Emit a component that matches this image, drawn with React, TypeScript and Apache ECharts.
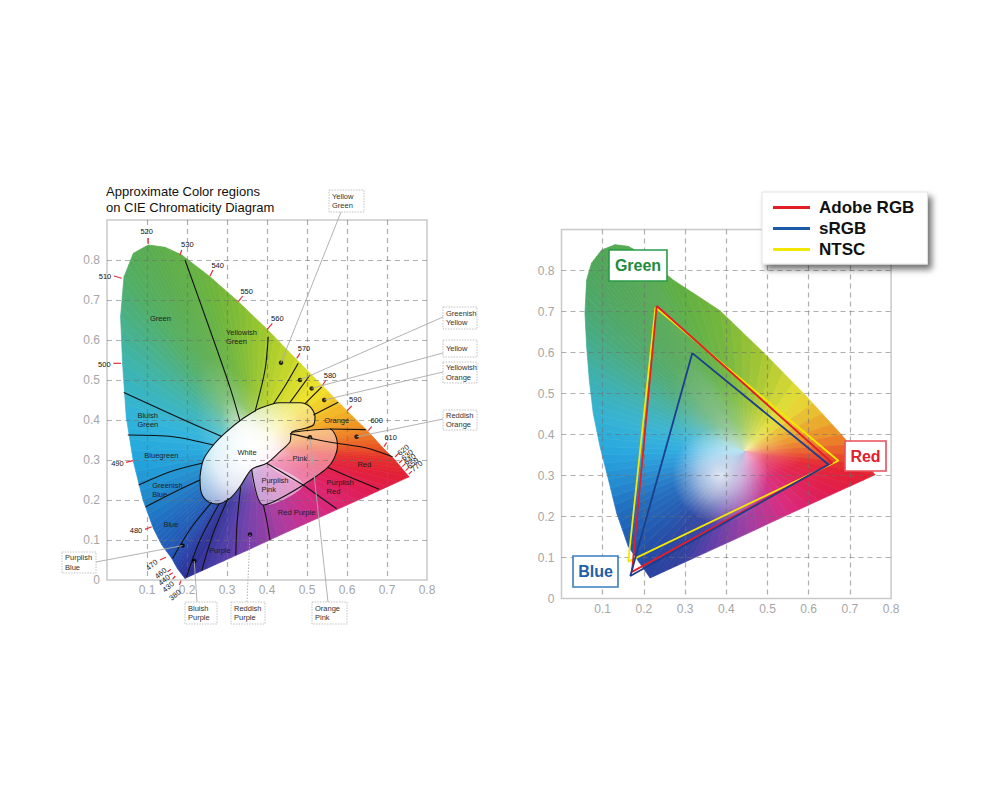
import React, { useEffect, useRef } from 'react';
import * as echarts from 'echarts';

// ---------------- LEFT CHART DATA ----------------
// spectral locus, from 380nm up the left side, over the top, down the right, back along the purple line
const LEFT_LOCUS: number[][] = [
  [0.195, 0.004], [0.176, 0.029], [0.162, 0.054], [0.137, 0.088], [0.116, 0.129],
  [0.09, 0.2], [0.066, 0.296], [0.048, 0.408], [0.039, 0.54], [0.034, 0.658],
  [0.0425, 0.758], [0.066, 0.817], [0.103, 0.8375], [0.145, 0.832], [0.187, 0.8125],
  [0.2575, 0.758], [0.328, 0.696], [0.4, 0.627], [0.472, 0.553], [0.538, 0.486],
  [0.601, 0.422], [0.652, 0.372], [0.69, 0.33], [0.718, 0.302], [0.755, 0.258],
  [0.65, 0.21], [0.55, 0.165], [0.45, 0.12], [0.35, 0.074], [0.27, 0.038],
];
const LEFT_LOCUS_COLORS = [
  '#2b2f95', '#2a3fa6', '#2450b0', '#2060b8', '#1f6cc0',
  '#2088cc', '#22a4dc', '#30b4dc', '#3cb4b0', '#48b088',
  '#50ae66', '#56ad58', '#5aac50', '#5eae4a', '#62b046',
  '#6cb43c', '#80bc34', '#a0c82c', '#cad828', '#f0e22c',
  '#f2b226', '#ee8424', '#e95424', '#e53028', '#e21e34',
  '#e01c58', '#d8287e', '#b03a9e', '#7640aa', '#4a3ca6',
];
const LEFT_WHITE_POINT = [0.37, 0.33];

const WHITE_REGION: number[][] = [
  [0.2325, 0.2583], [0.2408, 0.3], [0.2658, 0.3375], [0.2992, 0.3708], [0.3408, 0.4042],
  [0.3825, 0.4292], [0.4325, 0.4433], [0.4825, 0.4433], [0.5075, 0.4333], [0.52, 0.4083],
  [0.5158, 0.3875], [0.49, 0.378], [0.4617, 0.3692], [0.4575, 0.3458], [0.4325, 0.3208],
  [0.3992, 0.2917], [0.3617, 0.2767], [0.3325, 0.2333], [0.3075, 0.2042], [0.2742, 0.19],
  [0.2492, 0.1983], [0.235, 0.2208], [0.2325, 0.2583],
];
const PINK_REGION: number[][] = [
  [0.4617, 0.3692], [0.5575, 0.3775], [0.5725, 0.3583], [0.576, 0.3333], [0.5658, 0.3],
  [0.5492, 0.2792], [0.5158, 0.2542], [0.4908, 0.2375], [0.3992, 0.2917], [0.4325, 0.3208],
  [0.4575, 0.3458],
];
const PURPLISH_PINK_REGION: number[][] = [
  [0.3617, 0.2767], [0.3992, 0.2917], [0.4908, 0.2375], [0.3908, 0.1875],
];

// region boundary lines
const BOUNDARY_LINES: number[][][] = [
  [[0.195, 0.8], [0.2575, 0.625], [0.3075, 0.4817], [0.3325, 0.397]],
  [[0.403, 0.608], [0.395, 0.525], [0.37, 0.421]],
  [[0.478, 0.542], [0.445, 0.485], [0.416, 0.44]],
  [[0.5075, 0.5125], [0.4575, 0.444]],
  [[0.537, 0.483], [0.495, 0.441]],
  [[0.578, 0.4445], [0.516, 0.4125]],
  [[0.647, 0.376], [0.5575, 0.3775]],
  [[0.4575, 0.366], [0.52, 0.352], [0.574, 0.342], [0.649, 0.33], [0.714, 0.308]],
  [[0.4617, 0.3692], [0.5575, 0.3775], [0.5725, 0.3583], [0.576, 0.3333], [0.5658, 0.3], [0.5492, 0.2792], [0.5158, 0.2542], [0.4908, 0.2375]],
  [[0.3992, 0.2917], [0.4908, 0.2375]],
  [[0.3617, 0.2767], [0.3908, 0.1875], [0.4908, 0.2375]],
  [[0.3908, 0.1875], [0.3992, 0.15], [0.4075, 0.1]],
  [[0.4908, 0.2375], [0.574, 0.178]],
  [[0.552, 0.281], [0.62, 0.252], [0.68, 0.227]],
  [[0.042, 0.469], [0.165, 0.4125], [0.287, 0.3585]],
  [[0.052, 0.3625], [0.165, 0.3583], [0.266, 0.3375]],
  [[0.079, 0.2375], [0.1575, 0.2708], [0.237, 0.2917]],
  [[0.097, 0.1833], [0.17, 0.2208], [0.2325, 0.25]],
  [[0.2617, 0.194], [0.21, 0.13], [0.164, 0.054]],
  [[0.28, 0.19], [0.2325, 0.1], [0.199, 0.008]],
  [[0.303, 0.205], [0.265, 0.115], [0.2367, 0.023]],
  [[0.334, 0.232], [0.325, 0.14], [0.322, 0.062]],
  WHITE_REGION,
];

const REGION_NAMES = [
  'Green', 'Yellowish\nGreen', 'Bluish\nGreen', 'Bluegreen', 'Greenish\nBlue', 'Blue', 'Purple',
  'White', 'Pink', 'Purplish\nPink', 'Purplish\nRed', 'Red Purple', 'Red', 'Orange',
];
const REGION_POS: number[][] = [
  [0.1075, 0.654], [0.2975, 0.607], [0.076, 0.4], [0.0933, 0.312], [0.113, 0.225], [0.141, 0.139],
  [0.255, 0.075], [0.326, 0.319], [0.464, 0.305], [0.386, 0.2375], [0.549, 0.233], [0.427, 0.168],
  [0.626, 0.29], [0.543, 0.398],
];

const WAVE_LABELS = [
  '380', '430', '440', '460', '470', '480', '490', '500', '510', '520', '530', '540',
  '550', '560', '570', '580', '590', '600', '610', '620', '630', '640', '650', '770',
];
const WAVE_POINTS: number[][] = [
  [0.195, 0.004], [0.19, 0.01], [0.185, 0.017], [0.176, 0.029], [0.162, 0.054], [0.116, 0.129],
  [0.066, 0.296], [0.039, 0.54], [0.0425, 0.758], [0.103, 0.8375], [0.187, 0.8125], [0.2575, 0.758],
  [0.328, 0.696], [0.4, 0.627], [0.472, 0.553], [0.538, 0.486], [0.601, 0.422], [0.652, 0.372],
  [0.69, 0.33], [0.718, 0.302], [0.728, 0.29], [0.736, 0.281], [0.744, 0.271], [0.752, 0.262],
];
// layout (pixels relative to locus point): tick [x1,y1,x2,y2], label [dx,dy,rotationDeg]
const WAVE_TICKS = [
  [-5.7, 6.6, -4, 2.3], [-10.3, 3, -7.7, 0], [-11.7, 1.8, -8.3, -0.5], [-10, 3.3, -6.7, 1], [-11.8, 1.6, -5.8, -1.1],
  [-8.4, 1, -1.7, -1.7], [-7.4, 0.7, -0.4, -0.9], [-9.3, -0.7, -1.6, -0.7], [-10, -0.8, -2.3, 1.5], [0, -1, 0, -7],
  [-1.8, 0, -0.1, -5], [0, -0.8, 3, -6.8], [0.1, 0.1, 4.5, -5.6], [0.3, 0.1, 5.3, -5.9], [0.9, -0.5, 4.2, -5.5],
  [0.5, -0.6, 3.8, -5.6], [-0.1, -0.5, 4.3, -5.2], [0.5, -0.5, 3.9, -4.5], [1, -1.3, 3.7, -5.3], [0.8, -2.2, 4.1, -5.4],
  [1, -1, 4, -4], [1, -1, 4, -4], [1, -1, 4, -4], [1, -1, 4, -4],
];
const WAVE_LABEL_POS = [
  [-10, 16.6, 40], [-14.7, 10.7, 40], [-16.7, 6.8, 40], [-16.7, 4.9, 40], [-20, 6.6, 40],
  [-17.4, 2.3, 0], [-16, 1.7, 0], [-18.3, 0, 0], [-19, -0.8, 0], [-1.5, -13.3, 0],
  [5.5, -10.3, 0], [7.7, -11.1, 0], [8.5, -9.9, 0], [10.3, -10.9, 0], [8.2, -10.5, 0],
  [7.8, -10.6, 0], [7.9, -11.9, 0], [8.9, -10.5, 0], [7.7, -10.7, 0], [9.1, -9.2, 40],
  [9.1, -9, 40], [8.6, -8.3, 40], [8.1, -8.3, 40], [8.9, -8.9, 40],
];

const CALLOUT_TEXTS = [
  'Yellow\nGreen', 'Greenish\nYellow', 'Yellow', 'Yellowish\nOrange', 'Reddish\nOrange',
  'Purplish\nBlue', 'Bluish\nPurple', 'Reddish\nPurple', 'Orange\nPink',
];
const CALLOUT_DOTS: number[][] = [
  [0.435, 0.543], [0.4825, 0.5], [0.5117, 0.479], [0.543, 0.45], [0.624, 0.358],
  [0.189, 0.086], [0.218, 0.0475], [0.3575, 0.114], [0.5075, 0.357],
];
// layout in pixels: box x, y, w, h, leader anchor x, y, dotted
const CALLOUT_BOXES = [
  [329, 190, 35, 22, 341, 212, 0], [443, 307, 34, 22, 443, 317, 0], [443, 340, 34, 17, 443, 353, 0],
  [443, 362, 34, 21, 443, 372, 0], [443, 410, 34, 20, 443, 419, 0], [62, 552, 34, 21, 96, 562, 0],
  [185, 602, 32, 22, 197, 602, 0], [231, 602, 34, 22, 247, 602, 1], [312, 602, 35, 22, 328, 602, 0],
];

// ---------------- RIGHT CHART DATA ----------------
const RIGHT_LOCUS: number[][] = [
  [0.215, 0.05], [0.162, 0.127], [0.134, 0.208], [0.114, 0.29], [0.0934, 0.371],
  [0.077, 0.452], [0.0675, 0.533], [0.061, 0.615], [0.057, 0.696], [0.061, 0.777],
  [0.073, 0.818], [0.0975, 0.85], [0.13, 0.863], [0.162, 0.859], [0.1986, 0.838],
  [0.271, 0.777], [0.385, 0.7017], [0.49, 0.6], [0.587, 0.501], [0.68, 0.399],
  [0.761, 0.302], [0.65, 0.251], [0.55, 0.205], [0.45, 0.158], [0.35, 0.112], [0.28, 0.08],
];
const RIGHT_LOCUS_COLORS = [
  '#29409e', '#1f58b0', '#1f6cbe', '#2590d4', '#28aadf',
  '#34b2d2', '#3cb0b4', '#44ac90', '#4aa874', '#4ea662',
  '#50a65a', '#52a656', '#54a854', '#56a852', '#58aa4e',
  '#5eae44', '#74b63a', '#a4c632', '#e6de34', '#ec8a26',
  '#e41e2c', '#e01c50', '#d82a80', '#9e3ea2', '#5a3ea8', '#30409e',
];
const RIGHT_WHITE_POINT = [0.445, 0.358];
const RIGHT_PALE_SPOT = [0.385, 0.3];

const GAMUT_NAMES = ['Adobe RGB', 'sRGB', 'NTSC'];
const ADOBE_RGB: number[][] = [[0.231, 0.714], [0.657, 0.331], [0.171, 0.065], [0.231, 0.714]];
const SRGB: number[][] = [[0.3175, 0.5985], [0.648, 0.327], [0.167, 0.055], [0.3175, 0.5985]];
const NTSC: number[][] = [[0.228, 0.71], [0.672, 0.336], [0.162, 0.09], [0.228, 0.71]];

const X_TICKS_MAX = 0.8;
const Y_TICKS_MAX = 0.9;

// ---------------- helpers ----------------
const FONT = '"Liberation Sans", Arial, sans-serif';
const hexToRgb = (h: string) => [parseInt(h.slice(1, 3), 16), parseInt(h.slice(3, 5), 16), parseInt(h.slice(5, 7), 16)];
const mixRgb = (a: number[], b: number[], t: number) => [a[0] + (b[0] - a[0]) * t, a[1] + (b[1] - a[1]) * t, a[2] + (b[2] - a[2]) * t];
const rgbStr = (c: number[]) => `rgb(${Math.round(c[0])},${Math.round(c[1])},${Math.round(c[2])})`;
const WHITE = [255, 255, 255];

// stops: [offset, whiteness]
function makeFan(locus: number[][], colors: string[], center: number[], subdiv: number, stops: number[][]) {
  const rgb = colors.map(hexToRgb);
  return (params: any, api: any) => {
    const c = api.coord(center);
    const pts = locus.map((p) => api.coord(p));
    const n = pts.length;
    const children: any[] = [];
    for (let i = 0; i < n; i++) {
      const a = pts[i];
      const b = pts[(i + 1) % n];
      for (let k = 0; k < subdiv; k++) {
        const t0 = k / subdiv;
        const t1 = (k + 1) / subdiv;
        const p0 = [a[0] + (b[0] - a[0]) * t0, a[1] + (b[1] - a[1]) * t0];
        const p1 = [a[0] + (b[0] - a[0]) * t1, a[1] + (b[1] - a[1]) * t1];
        const col = mixRgb(rgb[i], rgb[(i + 1) % n], (t0 + t1) / 2);
        const m = [(p0[0] + p1[0]) / 2, (p0[1] + p1[1]) / 2];
        const g = new echarts.graphic.LinearGradient(
          c[0], c[1], m[0], m[1],
          stops.map((s) => ({ offset: s[0], color: rgbStr(mixRgb(col, WHITE, s[1])) })),
          true,
        );
        children.push({
          type: 'polygon',
          shape: { points: [c, p0, p1] },
          style: { fill: g, stroke: g, lineWidth: 0.7 },
        });
      }
    }
    return { type: 'group', children };
  };
}

function makeAxes(gridIndex: number) {
  const labelStyle = { color: '#a6a6a6', fontSize: 12, fontFamily: FONT };
  const split = { show: true, showMinLine: false, showMaxLine: false, lineStyle: { type: [5, 4], color: 'rgba(110,110,110,0.55)', width: 1.2 } };
  return {
    x: {
      gridIndex, type: 'value', min: 0, max: X_TICKS_MAX, interval: 0.1, z: 3,
      axisLine: { show: false }, axisTick: { show: false },
      axisLabel: { ...labelStyle, margin: 4, formatter: (v: number) => (v === 0 ? '' : v.toFixed(1)) },
      splitLine: split,
    },
    y: {
      gridIndex, type: 'value', min: 0, max: Y_TICKS_MAX, interval: 0.1, z: 3,
      axisLine: { show: false }, axisTick: { show: false },
      axisLabel: { ...labelStyle, margin: 7, formatter: (v: number) => (v === 0 ? '0' : v > 0.85 ? '' : v.toFixed(1)) },
      splitLine: split,
    },
  };
}

function polygonSeries(points: number[][], fill: any, z: number) {
  return {
    type: 'custom', xAxisIndex: 0, yAxisIndex: 0, silent: true, z,
    data: [[0, 0]],
    renderItem: (params: any, api: any) => ({
      type: 'polygon',
      shape: { points: points.map((p) => api.coord(p)), smooth: 0.3 },
      style: typeof fill === 'function' ? fill(points.map((p) => api.coord(p))) : { fill },
    }),
  };
}

function labelBox(x: number, y: number, w: number, h: number, text: string, color: string, border: string) {
  return [
    { type: 'rect', z: 20, shape: { x, y, width: w, height: h }, style: { fill: '#ffffff', stroke: border, lineWidth: 1.6 } },
    {
      type: 'text', z: 21, x: x + w / 2, y: y + h / 2,
      style: { text, fill: color, font: `bold 16px ${FONT}`, align: 'center', verticalAlign: 'middle', textAlign: 'center', textVerticalAlign: 'middle' },
    },
  ];
}

export default function App() {
  const ref = useRef<HTMLDivElement>(null);
  useEffect(() => {
    if (!ref.current) return;
    const chart = echarts.init(ref.current, undefined, { renderer: 'svg' });
    const a0 = makeAxes(0);
    const a1 = makeAxes(1);

    const whiteFill = (pts: number[][]) => {
      const xs = pts.map((p) => p[0]);
      const ys = pts.map((p) => p[1]);
      const cx = Math.min(...xs) + (Math.max(...xs) - Math.min(...xs)) * 0.4;
      const cy = (Math.min(...ys) + Math.max(...ys)) / 2 + 4;
      const r = (Math.max(...xs) - Math.min(...xs)) * 0.6;
      return {
        fill: new echarts.graphic.RadialGradient(cx, cy, r, [
          { offset: 0, color: 'rgba(255,255,255,0.98)' },
          { offset: 0.45, color: 'rgba(255,255,255,0.85)' },
          { offset: 1, color: 'rgba(255,255,255,0.35)' },
        ], true),
      };
    };

    const lineSeries = BOUNDARY_LINES.map((line) => ({
      type: 'line', xAxisIndex: 0, yAxisIndex: 0, data: line, smooth: 0.3, showSymbol: false, symbol: 'none',
      silent: true, z: 5, lineStyle: { color: '#111', width: 1.1 },
    }));

    const option: any = {
      animation: false,
      textStyle: { fontFamily: FONT },
      title: {
        text: 'Approximate Color regions\non CIE Chromaticity Diagram',
        left: 106, top: 184, padding: 0,
        textStyle: { fontSize: 13, fontWeight: 'normal', color: '#111', lineHeight: 15.6, fontFamily: FONT },
      },
      legend: {
        data: GAMUT_NAMES, orient: 'vertical', left: 762, top: 192,
        backgroundColor: '#ffffff', borderColor: '#e2e2e2', borderWidth: 1,
        padding: [7, 13, 6, 11], itemWidth: 37, itemHeight: 3, itemGap: 4, icon: 'rect',
        selectedMode: false,
        textStyle: { fontSize: 17, fontWeight: 'bold', color: '#111', fontFamily: FONT, lineHeight: 17, padding: [0, 0, 0, 4] },
        shadowBlur: 6, shadowColor: 'rgba(0,0,0,0.55)', shadowOffsetX: 4, shadowOffsetY: 5,
      },
      grid: [
        { left: 107, top: 220, width: 320, height: 360, show: true, borderColor: '#c9c9c9', borderWidth: 1.5, backgroundColor: 'transparent' },
        { left: 561.5, top: 229.5, width: 329.6, height: 369, show: true, borderColor: '#c9c9c9', borderWidth: 1.5, backgroundColor: 'transparent' },
      ],
      xAxis: [a0.x, a1.x],
      yAxis: [a0.y, a1.y],
      graphic: [
        ...labelBox(609, 250, 58, 31, 'Green', '#1e8c3c', '#2a9a4a'),
        ...labelBox(845, 441, 41, 30, 'Red', '#e0202c', '#e8505c'),
        ...labelBox(573, 556, 45, 31, 'Blue', '#1f5ea8', '#3a7cc0'),
      ],
      series: [
        {
          type: 'custom', xAxisIndex: 0, yAxisIndex: 0, silent: true, z: 1, data: [[0, 0]],
          renderItem: makeFan(LEFT_LOCUS, LEFT_LOCUS_COLORS, LEFT_WHITE_POINT, 4,
            [[0, 1], [0.1, 0.7], [0.25, 0.22], [0.45, 0.03], [1, 0]]),
        },
        polygonSeries(PINK_REGION, 'rgba(255,236,240,0.45)', 2),
        polygonSeries(PURPLISH_PINK_REGION, 'rgba(240,226,246,0.6)', 2),
        polygonSeries(WHITE_REGION, whiteFill, 2),
        ...lineSeries,
        {
          type: 'scatter', xAxisIndex: 0, yAxisIndex: 0, data: CALLOUT_DOTS, symbolSize: 4.5, silent: true, z: 8,
          itemStyle: { color: '#000' },
        },
        {
          type: 'custom', xAxisIndex: 0, yAxisIndex: 0, silent: true, z: 8,
          data: REGION_POS.map((p, i) => [p[0], p[1], i]),
          renderItem: (params: any, api: any) => {
            const p = api.coord([api.value(0), api.value(1)]);
            return {
              type: 'text', x: p[0], y: p[1],
              style: {
                text: REGION_NAMES[params.dataIndex], fill: '#1e1e1e', font: `7.5px ${FONT}`, lineHeight: 9,
                align: 'left', verticalAlign: 'middle', textAlign: 'left', textVerticalAlign: 'middle',
              },
            };
          },
        },
        {
          type: 'custom', xAxisIndex: 0, yAxisIndex: 0, silent: true, z: 8,
          data: WAVE_POINTS.map((p, i) => [p[0], p[1], i]),
          renderItem: (params: any, api: any) => {
            const i = params.dataIndex;
            const p = api.coord([api.value(0), api.value(1)]);
            const t = WAVE_TICKS[i];
            const l = WAVE_LABEL_POS[i];
            return {
              type: 'group',
              children: [
                { type: 'line', shape: { x1: p[0] + t[0], y1: p[1] + t[1], x2: p[0] + t[2], y2: p[1] + t[3] }, style: { stroke: '#e0303a', lineWidth: 1.2 } },
                {
                  type: 'text', x: p[0] + l[0], y: p[1] + l[1], rotation: (l[2] * Math.PI) / 180,
                  style: {
                    text: WAVE_LABELS[i], fill: '#111', font: `7.5px ${FONT}`,
                    align: 'center', verticalAlign: 'middle', textAlign: 'center', textVerticalAlign: 'middle',
                  },
                },
              ],
            };
          },
        },
        {
          type: 'custom', xAxisIndex: 0, yAxisIndex: 0, silent: true, z: 9,
          data: CALLOUT_DOTS.map((p, i) => [p[0], p[1], i]),
          renderItem: (params: any, api: any) => {
            const i = params.dataIndex;
            const p = api.coord([api.value(0), api.value(1)]);
            const b = CALLOUT_BOXES[i];
            return {
              type: 'group',
              children: [
                {
                  type: 'line', shape: { x1: b[4], y1: b[5], x2: p[0], y2: p[1] },
                  style: { stroke: '#a9a9a9', lineWidth: 0.9, lineDash: b[6] ? [1.5, 1.5] : null },
                },
                {
                  type: 'rect', shape: { x: b[0], y: b[1], width: b[2], height: b[3] },
                  style: { fill: '#ffffff', stroke: '#b3b3b3', lineWidth: 0.8, lineDash: [1.5, 1.2] },
                },
                {
                  type: 'text', x: b[0] + 3, y: b[1] + b[3] / 2,
                  style: {
                    text: CALLOUT_TEXTS[i], fill: '#333', font: `7.5px ${FONT}`, lineHeight: 9.3,
                    align: 'left', verticalAlign: 'middle', textAlign: 'left', textVerticalAlign: 'middle',
                  },
                },
              ],
            };
          },
        },
        {
          type: 'custom', xAxisIndex: 1, yAxisIndex: 1, silent: true, z: 1, data: [[0, 0]],
          renderItem: makeFan(RIGHT_LOCUS, RIGHT_LOCUS_COLORS, RIGHT_WHITE_POINT, 4,
            [[0, 0.55], [0.2, 0.25], [0.45, 0.05], [1, 0]]),
        },
        {
          type: 'custom', xAxisIndex: 1, yAxisIndex: 1, silent: true, z: 2, data: [RIGHT_PALE_SPOT],
          renderItem: (params: any, api: any) => {
            const p = api.coord([api.value(0), api.value(1)]);
            return {
              type: 'circle', shape: { cx: p[0], cy: p[1], r: 48 },
              style: {
                fill: new echarts.graphic.RadialGradient(p[0], p[1], 48, [
                  { offset: 0, color: 'rgba(255,255,255,0.8)' },
                  { offset: 0.45, color: 'rgba(255,255,255,0.5)' },
                  { offset: 1, color: 'rgba(255,255,255,0)' },
                ], true),
              },
            };
          },
        },
        {
          name: 'NTSC', type: 'line', xAxisIndex: 1, yAxisIndex: 1, data: NTSC, symbol: 'none', silent: true, z: 6,
          lineStyle: { color: '#f4e800', width: 1.8 }, itemStyle: { color: '#f4e800' },
        },
        {
          name: 'Adobe RGB', type: 'line', xAxisIndex: 1, yAxisIndex: 1, data: ADOBE_RGB, symbol: 'none', silent: true, z: 6,
          lineStyle: { color: '#e41e26', width: 1.8 }, itemStyle: { color: '#e41e26' },
        },
        {
          name: 'sRGB', type: 'line', xAxisIndex: 1, yAxisIndex: 1, data: SRGB, symbol: 'none', silent: true, z: 6,
          lineStyle: { color: '#1c3e8e', width: 1.8 }, itemStyle: { color: '#1c5aa8' },
        },
      ],
    };
    chart.setOption(option);
    return () => chart.dispose();
  }, []);
  return (
    <div
      ref={ref}
      style={{ position: 'absolute', left: 0, top: 0, width: 1000, height: 800, background: '#ffffff' }}
    />
  );
}
